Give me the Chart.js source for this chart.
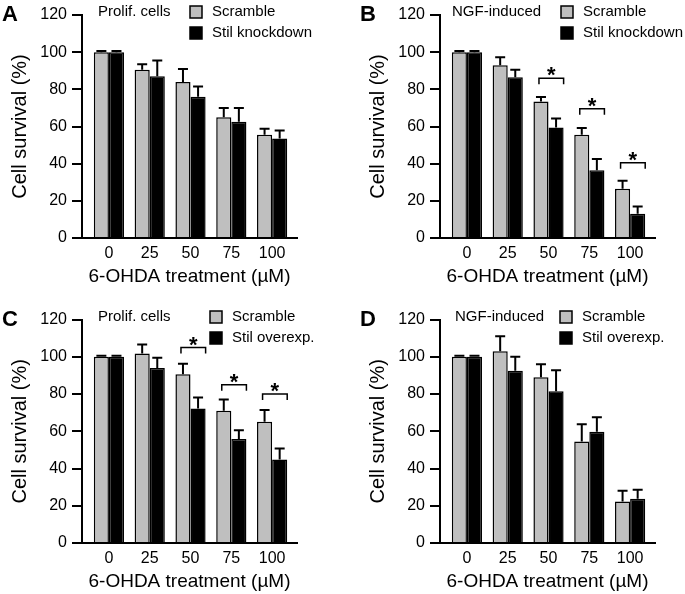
<!DOCTYPE html>
<html>
<head>
<meta charset="utf-8">
<script src="https://cdn.jsdelivr.net/npm/chart.js@4.4.0/dist/chart.umd.min.js"></script>
<style>
body { margin: 0; background: #fff; }
#wrap { position: relative; width: 685px; height: 594px; overflow: hidden; }
canvas { position: absolute; }
</style>
</head>
<body>
<div id="wrap">
<canvas id="cA" width="358" height="305" style="left:0;top:0"></canvas>
<canvas id="cB" width="327" height="305" style="left:358px;top:0"></canvas>
<canvas id="cC" width="358" height="289" style="left:0;top:305px"></canvas>
<canvas id="cD" width="327" height="289" style="left:358px;top:305px"></canvas>
</div>
<script>
var doses = ['0', '25', '50', '75', '100'];

// A: proliferating cells, knockdown
var aScramble = [100, 90.5, 84, 65, 55.5];
var aScrambleErr = [0.6, 3, 7, 5, 3.3];
var aKnock = [100, 87, 76, 62.5, 53.5];
var aKnockErr = [0.6, 8.5, 5.5, 7.5, 4.3];

// B: NGF-induced, knockdown
var bScramble = [100, 93, 73.5, 55.5, 26.5];
var bScrambleErr = [0.6, 4.3, 2.4, 3.7, 4.3];
var bKnock = [100, 86.5, 59.5, 36.5, 13];
var bKnockErr = [0.6, 4, 4.8, 6, 4];
var bSig = [null, null, 86, 69.5, 40.5];

// C: proliferating cells, overexpression
var cScramble = [100, 101.8, 90.6, 71.1, 65.1];
var cScrambleErr = [0.6, 4.8, 5.7, 6, 6.4];
var cOver = [100, 94, 72.2, 55.8, 44.9];
var cOverErr = [0.6, 5.5, 5.9, 4.8, 5.9];
var cSig = [null, null, 105, 85, 80];

// D: NGF-induced, overexpression
var dScramble = [100, 103, 89, 54.5, 22.3];
var dScrambleErr = [0.6, 8, 7, 9.3, 5.7];
var dOver = [100, 92.5, 81.5, 59.8, 23.8];
var dOverErr = [0.6, 7.5, 11.3, 7.8, 4.8];

var FONT = '"Liberation Sans", Arial, Helvetica, sans-serif';
var GREY = '#bfbfbf';
Chart.defaults.font.family = FONT;
Chart.defaults.color = '#000';

function toPoints(vals) {
  return vals.map(function(v, i) { return { x: i, y: v }; });
}

function decor(o) {
  return {
    id: 'decor',
    afterDatasetsDraw: function(chart) {
      var c = chart.ctx, y = chart.scales.y;
      c.save();
      c.strokeStyle = '#000';
      c.lineWidth = 2;
      chart.data.datasets.forEach(function(ds, di) {
        chart.getDatasetMeta(di).data.forEach(function(bar, i) {
          var top = y.getPixelForValue(ds.data[i].y + ds.err[i]);
          c.beginPath();
          c.moveTo(bar.x, bar.y);
          c.lineTo(bar.x, top);
          c.moveTo(bar.x - 5, top);
          c.lineTo(bar.x + 5, top);
          c.stroke();
        });
      });
      if (o.sig) {
        var g = chart.getDatasetMeta(0).data, b = chart.getDatasetMeta(1).data;
        c.lineWidth = 1.5;
        c.fillStyle = '#000';
        c.font = 'bold 22px ' + FONT;
        c.textAlign = 'center';
        c.textBaseline = 'alphabetic';
        o.sig.forEach(function(level, i) {
          if (level === null) return;
          var py = y.getPixelForValue(level);
          var x1 = g[i].x - 2, x2 = b[i].x + b[i].width / 2;
          c.beginPath();
          c.moveTo(x1, py + 6);
          c.lineTo(x1, py);
          c.lineTo(x2, py);
          c.lineTo(x2, py + 6);
          c.stroke();
          c.fillText('*', (x1 + x2) / 2, py + 4);
        });
      }
      c.restore();
    },
    afterDraw: function(chart) {
      var c = chart.ctx, rows = [12, 33];
      c.save();
      c.fillStyle = '#000';
      c.font = 'bold 22px ' + FONT;
      c.textAlign = 'left';
      c.textBaseline = 'alphabetic';
      c.fillText(o.letter, 2, 21);
      c.font = '15px ' + FONT;
      c.textBaseline = 'middle';
      c.fillText(o.note, chart.chartArea.left + o.noteDx, rows[0]);
      chart.data.datasets.forEach(function(ds, k) {
        c.fillStyle = ds.backgroundColor;
        c.fillRect(o.legX - 22, rows[k] - 6, 12, 12);
        c.strokeStyle = '#000';
        c.lineWidth = 1.5;
        c.strokeRect(o.legX - 22, rows[k] - 6, 12, 12);
        c.fillStyle = '#000';
        c.fillText(ds.label, o.legX, rows[k]);
      });
      c.restore();
    }
  };
}

function panel(id, o) {
  var ctx = document.getElementById(id).getContext('2d');
  return new Chart(ctx, {
    type: 'bar',
    data: {
      datasets: [
        { label: 'Scramble', data: toPoints(o.grey), err: o.greyErr, backgroundColor: GREY },
        { label: o.second, data: toPoints(o.black), err: o.blackErr, backgroundColor: '#000' }
      ]
    },
    options: {
      responsive: false,
      animation: false,
      layout: { padding: { left: 0, top: o.top, right: o.right, bottom: o.bottom } },
      datasets: { bar: { categoryPercentage: 0.74, barPercentage: 1, borderWidth: 1.5, borderColor: '#000' } },
      plugins: { legend: { display: false }, tooltip: { enabled: false } },
      scales: {
        x: {
          type: 'linear', min: -0.66, max: 4.61, offset: false,
          afterBuildTicks: function(ax) { ax.ticks = doses.map(function(d, i) { return { value: i }; }); },
          afterFit: function(s) { s.height = 48; },
          grid: { display: false, drawTicks: false },
          border: { color: '#000', width: 2 },
          ticks: { color: '#000', font: { size: 16 }, padding: 6, maxRotation: 0, autoSkip: false,
                   callback: function(v) { return doses[v]; } },
          title: { display: true, text: '6-OHDA treatment (µM)', color: '#000', font: { size: 19, lineHeight: 1 }, padding: 0 }
        },
        y: {
          min: 0, max: 120,
          afterFit: function(s) { s.width = 82; },
          ticks: { stepSize: 20, color: '#000', font: { size: 16 }, padding: 5 },
          grid: { drawOnChartArea: false, color: '#000', lineWidth: 2, tickLength: 10 },
          border: { color: '#000', width: 2 },
          title: { display: true, text: 'Cell survival (%)', color: '#000', font: { size: 20, lineHeight: 1 }, padding: { top: 10, bottom: 0 } }
        }
      }
    },
    plugins: [decor(o)]
  });
}

panel('cA', { letter: 'A', note: 'Prolif. cells', noteDx: 16, legX: 212, second: 'Stil knockdown',
  grey: aScramble, greyErr: aScrambleErr, black: aKnock, blackErr: aKnockErr,
  top: 15, right: 61, bottom: 19 });
panel('cB', { letter: 'B', note: 'NGF-induced', noteDx: 12, legX: 225, second: 'Stil knockdown',
  grey: bScramble, greyErr: bScrambleErr, black: bKnock, blackErr: bKnockErr, sig: bSig,
  top: 15, right: 30, bottom: 19 });
panel('cC', { letter: 'C', note: 'Prolif. cells', noteDx: 16, legX: 232, second: 'Stil overexp.',
  grey: cScramble, greyErr: cScrambleErr, black: cOver, blackErr: cOverErr, sig: cSig,
  top: 14, right: 61, bottom: 3 });
panel('cD', { letter: 'D', note: 'NGF-induced', noteDx: 15, legX: 224, second: 'Stil overexp.',
  grey: dScramble, greyErr: dScrambleErr, black: dOver, blackErr: dOverErr,
  top: 14, right: 30, bottom: 3 });
</script>
</body>
</html>
